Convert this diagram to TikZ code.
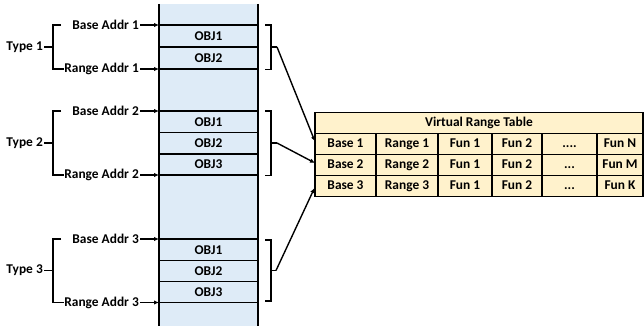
\documentclass[tikz,border=0pt]{standalone}
\usepackage{fontspec}
\setmainfont{Carlito}
\usetikzlibrary{arrows.meta}
\definecolor{colblue}{HTML}{DEEBF7}
\definecolor{tabfill}{HTML}{FFF2CC}
\begin{document}
\begin{tikzpicture}[x=1pt,y=-1pt,
  font=\fontsize{13.4}{15}\selectfont\bfseries,
  lbl/.style={inner sep=0pt, anchor=east},
  ptr/.style={line width=1.4pt, -{Latex[length=5pt,width=4.5pt]}},
  brk/.style={line width=1.5pt},
  cellline/.style={line width=1.6pt},
  objtxt/.style={inner sep=0pt},
  cell/.style={draw, line width=1.5pt, fill=tabfill, minimum height=21pt, inner sep=0pt, text height=9pt, text depth=2.5pt},
  wa/.style={minimum width=61pt}, wb/.style={minimum width=62pt},
  wc/.style={minimum width=54pt}, wd/.style={minimum width=50pt},
  we/.style={minimum width=55pt}, wf/.style={minimum width=46pt},
]
\useasboundingbox (0,0) rectangle (644,326);
% memory column
\fill[colblue] (159,4) rectangle (258,326);
\draw[line width=2pt] (159,4) -- (159,326);
\draw[line width=2pt] (258,4) -- (258,326);
\foreach \yy in {25,47,69,111,132.5,154,175,239,260.5,281.5,302.5}
  \draw[cellline] (159,\yy) -- (258,\yy);
% object labels
\node[objtxt] (o11) at (208.5,36) {OBJ1};
\node[objtxt] (o12) at (208.5,58) {OBJ2};
\node[objtxt] (o21) at (208.5,121.75) {OBJ1};
\node[objtxt] (o22) at (208.5,143.25) {OBJ2};
\node[objtxt] (o23) at (208.5,164.5) {OBJ3};
\node[objtxt] (o31) at (208.5,249.75) {OBJ1};
\node[objtxt] (o32) at (208.5,271) {OBJ2};
\node[objtxt] (o33) at (208.5,292) {OBJ3};
% column edge coordinates
\coordinate (cb1) at (159,25);
\coordinate (cr1) at (159,69);
\coordinate (cb2) at (159,111);
\coordinate (cr2) at (159,175);
\coordinate (cb3) at (159,239);
\coordinate (cr3) at (159,302.5);
% address labels
\node[lbl] (b1) at (139,25) {Base Addr 1};
\node[lbl] (r1) at (139,69) {Range Addr 1};
\node[lbl] (b2) at (139,111) {Base Addr 2};
\node[lbl] (r2) at (139,175) {Range Addr 2};
\node[lbl] (b3) at (139,239) {Base Addr 3};
\node[lbl] (r3) at (139,302.5) {Range Addr 3};
\foreach \a/\b in {b1/cb1,r1/cr1,b2/cb2,r2/cr2,b3/cb3,r3/cr3}
  \draw[ptr] ([xshift=1pt]\a.east) -- (\b);
% types and left braces
\node[lbl] (t1) at (43,47) {Type 1};
\node[lbl] (t2) at (43,143) {Type 2};
\node[lbl] (t3) at (43,270.5) {Type 3};
\draw[brk] (61,25) -- (53,25) -- (53,69) -- (r1.west);
\draw[brk] ([xshift=1pt]t1.east) -- (53,47);
\draw[brk] (61,111) -- (53,111) -- (53,175) -- (r2.west);
\draw[brk] ([xshift=1pt]t2.east) -- (53,143);
\draw[brk] (61,239) -- (53,239) -- (53,302.5) -- (r3.west);
\draw[brk] ([xshift=1pt]t3.east) -- (53,270.5);
% right brackets
\coordinate (k1) at (277,47);
\coordinate (k2) at (277,143);
\coordinate (k3) at (276,270.5);
\draw[brk] (265,25) -- (271,25) -- (271,69.5) -- (265,69.5);
\draw[brk] (271,47) -- (k1);
\draw[brk] (265,111) -- (271,111) -- (271,175.5) -- (265,175.5);
\draw[brk] (271,143) -- (k2);
\draw[brk] (265,240) -- (271,240) -- (271,301) -- (265,301);
\draw[brk] (271,270.5) -- (k3);
% table
\node[cell, minimum width=328pt] (hdr) at (479,123) {Virtual Range Table};
\node[cell, wa] (r1c1) at (345.5,144) {Base 1};
\node[cell, wb] (r1c2) at (407,144) {Range 1};
\node[cell, wc] (r1c3) at (465,144) {Fun 1};
\node[cell, wd] (r1c4) at (517,144) {Fun 2};
\node[cell, we] (r1c5) at (569.5,144) {....};
\node[cell, wf] (r1c6) at (620,144) {Fun N};
\node[cell, wa] (r2c1) at (345.5,165) {Base 2};
\node[cell, wb] (r2c2) at (407,165) {Range 2};
\node[cell, wc] (r2c3) at (465,165) {Fun 1};
\node[cell, wd] (r2c4) at (517,165) {Fun 2};
\node[cell, we] (r2c5) at (569.5,165) {...};
\node[cell, wf] (r2c6) at (620,165) {Fun M};
\node[cell, wa] (r3c1) at (345.5,186) {Base 3};
\node[cell, wb] (r3c2) at (407,186) {Range 3};
\node[cell, wc] (r3c3) at (465,186) {Fun 1};
\node[cell, wd] (r3c4) at (517,186) {Fun 2};
\node[cell, we] (r3c5) at (569.5,186) {...};
\node[cell, wf] (r3c6) at (620,186) {Fun K};
\coordinate (e1) at (315,141.5);
\coordinate (e2) at (315,163);
\coordinate (e3) at (314.5,188);
\draw[ptr] (k1) -- (e1);
\draw[ptr] (k2) -- (e2);
\draw[ptr] (k3) -- (e3);
\end{tikzpicture}
\end{document}
